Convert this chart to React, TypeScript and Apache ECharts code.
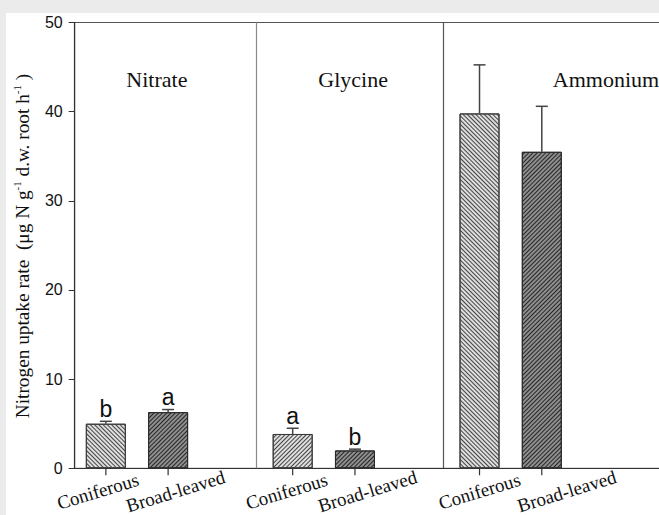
import React, { useEffect, useRef } from 'react';
import * as echarts from 'echarts';

// Nitrogen uptake rate by N form and forest type
const nForms = ['Nitrate', 'Glycine', 'Ammonium'];
const forestTypes = ['Coniferous', 'Broad-leaved'];
const coniferousMean = [5.0, 3.85, 39.8];
const broadleavedMean = [6.3, 2.0, 35.5];
const coniferousSE = [0.27, 0.64, 5.45];
const broadleavedSE = [0.29, 0.15, 5.1];
const coniferousLetters = ['b', 'a', ''];
const broadleavedLetters = ['a', 'b', ''];
const yMin = 0;
const yMax = 50;
const yStep = 10;

// layout (x axis runs in slot units: three slots per N form)
const SLOTS_PER_GROUP = 3;
const X_MAX = 9.43;
const DIVIDER_SHIFT = -0.09;
const DIVIDER_COLORS = ['#8a8a8a', '#555'];
const TITLE_X = [1.32, 1.47, 2.53];
const TITLE_Y = 43.6;
const LABEL_SHIFT = [[-8, 7.5], [-6, 12.5], [0, 25]];

const SERIF = "'Liberation Serif', 'Times New Roman', serif";
const SANS = "'Liberation Sans', Arial, sans-serif";

const means = [coniferousMean, broadleavedMean];
const ses = [coniferousSE, broadleavedSE];
const letters = [coniferousLetters, broadleavedLetters];

type Item = { x: number; mean: number; se: number; letter: string; g: number; t: number };
const items: Item[] = [];
nForms.forEach((_, g) => {
  forestTypes.forEach((_, t) => {
    items.push({
      x: g * SLOTS_PER_GROUP + t + 0.5,
      mean: means[t][g],
      se: ses[t][g],
      letter: letters[t][g],
      g,
      t,
    });
  });
});

const hatch = (rot: number, color: string) => ({
  symbol: 'rect',
  symbolSize: 1,
  color,
  dashArrayX: [1, 0],
  dashArrayY: [1, 2],
  rotation: rot,
});

const barStyle = (it: Item) => {
  const back = it.t === 0 && it.g !== 1;
  const rot = back ? Math.PI / 4 : -Math.PI / 4;
  return it.t === 0
    ? { color: '#dedede', borderColor: '#3a3a3a', borderWidth: 1, decal: hatch(rot, '#444') }
    : { color: '#8e8e8e', borderColor: '#2a2a2a', borderWidth: 1, decal: hatch(rot, '#262626') };
};

export default function App() {
  const ref = useRef<HTMLDivElement>(null);

  useEffect(() => {
    if (!ref.current) return;
    const chart = echarts.init(ref.current, null, { renderer: 'svg' });

    const option: any = {
      animation: false,
      backgroundColor: '#ffffff',
      grid: {
        left: 68.7,
        right: 4,
        top: 9.5,
        bottom: 46.7,
        show: true,
        borderColor: '#555',
        borderWidth: 1,
        backgroundColor: 'transparent',
      },
      xAxis: {
        type: 'value',
        min: 0,
        max: X_MAX,
        axisLine: { show: true, lineStyle: { color: '#333', width: 1.2 } },
        axisTick: { show: false },
        axisLabel: { show: false },
        splitLine: { show: false },
      },
      yAxis: {
        type: 'value',
        min: yMin,
        max: yMax,
        interval: yStep,
        axisLine: { show: true, lineStyle: { color: '#333', width: 1.2 } },
        axisTick: { show: true, inside: false, length: 6, lineStyle: { color: '#333' } },
        axisLabel: { fontSize: 16, fontFamily: SANS, color: '#111', margin: 12 },
        splitLine: { show: false },
      },
      graphic: [
        {
          type: 'text',
          x: 16,
          y: 233,
          rotation: Math.PI / 2,
          style: {
            text: '{t|Nitrogen uptake rate  (μg N g}{s|-1}{t| d.w. root h}{s|-1}{t| )}',
            align: 'center',
            verticalAlign: 'middle',
            rich: {
              t: { fontSize: 19.3, fontFamily: SERIF, fill: '#111', lineHeight: 22 },
              s: { fontSize: 11, fontFamily: SERIF, fill: '#111', verticalAlign: 'top', lineHeight: 22 },
            },
          },
        },
      ],
      series: [
        {
          type: 'bar',
          barWidth: 40,
          data: items.map((it) => ({ value: [it.x, it.mean], itemStyle: barStyle(it) })),
          markLine: {
            silent: true,
            symbol: ['none', 'none'],
            label: { show: false },
            data: nForms.slice(1).map((_, i) => ({
              xAxis: (i + 1) * SLOTS_PER_GROUP + DIVIDER_SHIFT,
              lineStyle: { color: DIVIDER_COLORS[i], width: 1.2, type: 'solid' },
            })),
          },
          z: 2,
        },
        {
          // error bars and significance letters
          type: 'custom',
          clip: false,
          z: 3,
          encode: { x: 0, y: 1 },
          data: items.map((it) => [it.x, it.mean, it.se]),
          renderItem: (params: any, api: any) => {
            const it = items[params.dataIndex];
            const x = api.value(0);
            const m = api.value(1);
            const s = api.value(2);
            const b = api.coord([x, m]);
            const tp = api.coord([x, m + s]);
            const st = { stroke: '#444', lineWidth: 1.5 };
            return {
              type: 'group',
              children: [
                { type: 'line', shape: { x1: b[0], y1: b[1], x2: tp[0], y2: tp[1] }, style: st },
                { type: 'line', shape: { x1: tp[0] - 6, y1: tp[1], x2: tp[0] + 6, y2: tp[1] }, style: st },
                {
                  type: 'text',
                  x: tp[0],
                  y: tp[1] - 1,
                  style: {
                    text: it.letter,
                    fill: '#111',
                    fontSize: 23,
                    fontFamily: SANS,
                    align: 'center',
                    verticalAlign: 'bottom',
                  },
                },
              ],
            };
          },
        },
        {
          // category ticks and rotated forest-type labels
          type: 'custom',
          clip: false,
          z: 3,
          encode: { x: 0, y: 1 },
          data: items.map((it) => [it.x, 0]),
          renderItem: (params: any, api: any) => {
            const it = items[params.dataIndex];
            const p = api.coord([api.value(0), api.value(1)]);
            return {
              type: 'group',
              children: [
                { type: 'line', shape: { x1: p[0], y1: p[1], x2: p[0], y2: p[1] + 7 }, style: { stroke: '#333', lineWidth: 1.2 } },
                {
                  type: 'text',
                  x: p[0] + LABEL_SHIFT[it.g][it.t],
                  y: p[1] + 23,
                  rotation: (17 * Math.PI) / 180,
                  style: {
                    text: forestTypes[it.t],
                    fill: '#111',
                    fontSize: 19,
                    fontFamily: SERIF,
                    align: 'center',
                    verticalAlign: 'middle',
                  },
                },
              ],
            };
          },
        },
        {
          // N-form titles inside each panel
          type: 'custom',
          clip: false,
          z: 3,
          encode: { x: 0, y: 1 },
          data: nForms.map((_, g) => [g * SLOTS_PER_GROUP + TITLE_X[g], TITLE_Y]),
          renderItem: (params: any, api: any) => {
            const p = api.coord([api.value(0), api.value(1)]);
            return {
              type: 'text',
              x: p[0],
              y: p[1],
              style: {
                text: nForms[params.dataIndex],
                fill: '#111',
                fontSize: 22,
                fontFamily: SERIF,
                align: 'center',
                verticalAlign: 'middle',
              },
            };
          },
        },
      ],
    };

    chart.setOption(option);
    return () => chart.dispose();
  }, []);

  return (
    <div
      style={{
        position: 'fixed',
        left: 0,
        top: 0,
        width: 659,
        height: 515,
        background: '#ebebeb',
        overflow: 'hidden',
      }}
    >
      <div
        ref={ref}
        style={{ position: 'absolute', left: 6, top: 13, width: 660, height: 502, background: '#fff' }}
      />
    </div>
  );
}
